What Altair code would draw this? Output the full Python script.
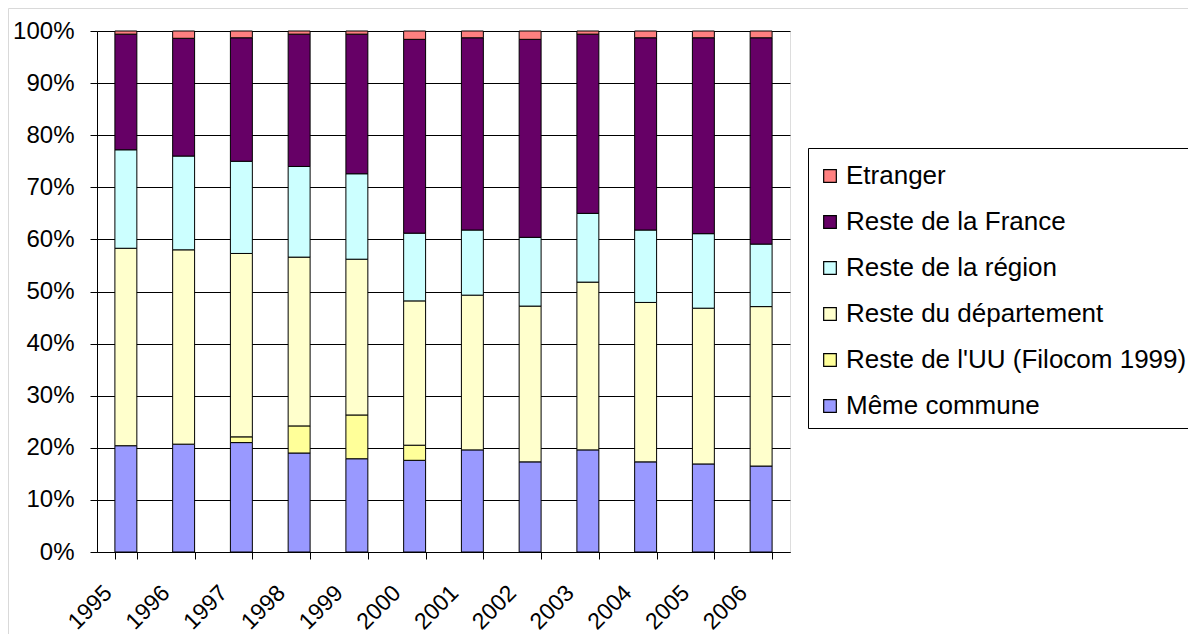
import altair as alt
import pandas as pd

years = ["1995", "1996", "1997", "1998", "1999", "2000", "2001", "2002", "2003", "2004", "2005", "2006"]
series = ["Même commune", "Reste de l'UU (Filocom 1999)", "Reste du département",
          "Reste de la région", "Reste de la France", "Etranger"]
commune = [20.4, 20.7, 21.0, 19.0, 17.9, 17.6, 19.6, 17.3, 19.6, 17.3, 16.9, 16.5]
uu = [0, 0, 1.1, 5.2, 8.4, 2.9, 0, 0, 0, 0, 0, 0]
dept = [37.9, 37.3, 35.2, 32.4, 29.9, 27.7, 29.7, 29.9, 32.2, 30.6, 29.9, 30.6]
region = [18.9, 18.0, 17.7, 17.4, 16.4, 13.0, 12.5, 13.2, 13.2, 13.9, 14.3, 12.0]
france = [22.2, 22.6, 23.7, 25.4, 26.8, 37.2, 36.9, 38.0, 34.4, 36.9, 37.6, 39.6]
etranger = [0.6, 1.4, 1.3, 0.6, 0.6, 1.6, 1.3, 1.6, 0.6, 1.3, 1.3, 1.3]
colors = ["#9999FF", "#FFFF99", "#FFFFCC", "#CCFFFF", "#660066", "#FF8080"]

values = [commune, uu, dept, region, france, etranger]
rows = []
for si, (name, vals) in enumerate(zip(series, values)):
    for y, v in zip(years, vals):
        if v > 0:
            rows.append({"year": y, "serie": name, "value": v, "idx": si})
df = pd.DataFrame(rows)

legend_order = list(reversed(series))
legend_colors = list(reversed(colors))

font = "Liberation Sans"

bars = alt.Chart(df).mark_bar(stroke="#000000", strokeWidth=1).encode(
    x=alt.X("year:N", sort=years, title=None,
            scale=alt.Scale(paddingInner=0.62, paddingOuter=0.31),
            axis=alt.Axis(labelAngle=-45, labelAlign="right", labelBaseline="middle",
                          labelFontSize=23, labelFont=font, labelColor="#000000",
                          labelOffset=-18, labelPadding=30,
                          tickBand="extent", tickSize=7, tickColor="#000000",
                          domainColor="#000000", grid=False)),
    y=alt.Y("value:Q", stack="normalize", title=None,
            scale=alt.Scale(domain=[0, 1], nice=False),
            axis=alt.Axis(format=".0%", values=[i / 10 for i in range(11)],
                          labelFontSize=24, labelFont=font, labelColor="#000000",
                          tickSize=7, tickColor="#000000", domainColor="#000000",
                          gridColor="#000000", gridWidth=1.2, labelPadding=16)),
    color=alt.Color("serie:N", scale=alt.Scale(domain=legend_order, range=legend_colors),
                    legend=alt.Legend(title=" ", titleFontSize=4, titlePadding=2,
                                      orient="none", legendX=711, legendY=117,
                                      labelFontSize=26, labelFont=font, labelColor="#000000",
                                      symbolType="square", symbolSize=160,
                                      symbolStrokeColor="#000000", symbolStrokeWidth=1.2,
                                      rowPadding=20, labelOffset=3,
                                      strokeColor="#000000", padding=9, fillColor="#FFFFFF",
                                      labelLimit=420)),
    order=alt.Order("idx:Q", sort="ascending"),
)

frame = alt.Chart(pd.DataFrame({"f": [0]})).mark_rect(
    fill=None, stroke="#D9D9D9", strokeWidth=1
).encode(x=alt.value(-88.5), x2=alt.value(1200), y=alt.value(-22.5), y2=alt.value(700))

chart = alt.layer(frame, bars).properties(
    width=693, height=521,
    autosize=alt.AutoSizeParams(type="none"),
    padding={"left": 89, "top": 23, "right": 398, "bottom": 82},
).configure_view(
    fill="#C0C0C0", stroke="#808080", strokeWidth=1
).configure(background="#FFFFFF")

chart.save("out.html", embed_options={"renderer": "svg", "actions": False})
